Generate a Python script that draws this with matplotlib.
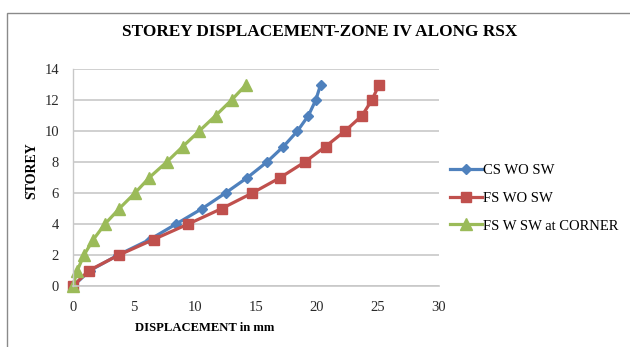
import matplotlib
matplotlib.use('Agg')
import matplotlib.pyplot as plt
from matplotlib.patches import Rectangle


# =========================
# 数据
# =========================
storey = [0, 1, 2, 3, 4, 5, 6, 7, 8, 9, 10, 11, 12, 13]

cs_wo_sw = [0, 1.4, 3.7, 6.3, 8.45, 10.6, 12.5, 14.3, 15.9, 17.25, 18.4, 19.3, 19.9, 20.3]
fs_wo_sw = [0, 1.3, 3.77, 6.6, 9.45, 12.2, 14.7, 17.0, 19.0, 20.7, 22.3, 23.7, 24.5, 25.1]
fs_w_sw_corner = [0, 0.35, 0.9, 1.67, 2.62, 3.8, 5.08, 6.26, 7.68, 9.0, 10.35, 11.7, 13.0, 14.2]

series_names = ['CS WO SW', 'FS WO SW', 'FS W SW at CORNER']
x_ticks = [0, 5, 10, 15, 20, 25, 30]
y_ticks = [0, 2, 4, 6, 8, 10, 12, 14]


# =========================
# 样式
# =========================
plt.rcParams['font.family'] = ['Liberation Serif', 'DejaVu Serif']

fig = plt.figure(figsize=(6.3, 3.47), dpi=100)

# 外框
fig.patches.append(Rectangle((7 / 630, -0.2), 1.2, 1.2 - 13 / 347,
                             transform=fig.transFigure, fill=False,
                             edgecolor='#8a8a8a', linewidth=1.0))

ax = fig.add_axes([73 / 630, 1 - 286 / 347, 366 / 630, 217 / 347])

ax.plot(cs_wo_sw, storey, color='#4F81BD', linewidth=2.3,
        marker='D', markersize=5.5, label=series_names[0])
ax.plot(fs_wo_sw, storey, color='#C0504D', linewidth=2.3,
        marker='s', markersize=7.5, label=series_names[1])
ax.plot(fs_w_sw_corner, storey, color='#9BBB59', linewidth=2.3,
        marker='^', markersize=8, label=series_names[2])

ax.set_xlim(0, 30)
ax.set_ylim(0, 14)
ax.set_xticks(x_ticks)
ax.set_yticks(y_ticks)
ax.tick_params(axis='both', length=0, labelsize=10.5, colors='#2a2a2a')
ax.tick_params(axis='x', pad=11)
ax.tick_params(axis='y', pad=10)

ax.grid(axis='y', color='#c8c8c8', linewidth=1.2)
ax.set_axisbelow(True)
for side in ['top', 'right']:
    ax.spines[side].set_visible(False)
ax.spines['left'].set_color('#c8c8c8')
ax.spines['bottom'].set_color('#c8c8c8')
ax.spines['left'].set_linewidth(1.0)
ax.spines['bottom'].set_linewidth(1.2)
for line in ax.lines:
    line.set_clip_on(False)

ax.set_xlabel('DISPLACEMENT in mm', fontsize=9.1, fontweight='bold')
ax.xaxis.set_label_coords((205 - 73) / 366, -(328 - 286) / 217)
ax.xaxis.label.set_va('center')
ax.set_ylabel('STOREY', fontsize=10, fontweight='bold')
ax.yaxis.set_label_coords(-(73 - 32) / 366, (286 - 171) / 217)
ax.yaxis.label.set_va('center')

fig.text(0.508, 1 - 32 / 347, 'STOREY DISPLACEMENT-ZONE IV ALONG RSX',
         ha='center', va='center', fontsize=12.4, fontweight='bold')

ax.legend(loc='center left', bbox_to_anchor=(0.995, 0.405), frameon=False,
          fontsize=10.5, handlelength=2.2, handletextpad=0.05, labelspacing=1.0)

fig.savefig('out.png', dpi=100)
print('Done!')
